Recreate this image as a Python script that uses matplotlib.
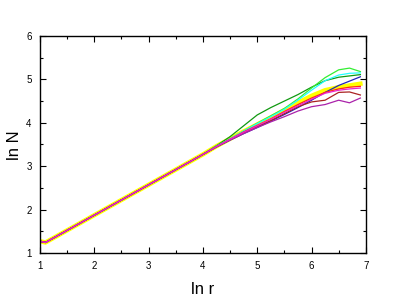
import numpy as np
import matplotlib.pyplot as plt
from matplotlib.ticker import MultipleLocator

plt.rcParams['font.family'] = ['Liberation Sans', 'DejaVu Sans']

# ln r sample points
ln_r = [1.0, 1.1, 1.5, 2.0, 2.5, 3.0, 3.5, 4.0,
        4.25, 4.5, 4.75, 5.0, 5.25, 5.5, 5.75, 6.0, 6.25, 6.5, 6.7, 6.9]

# shared part of all curves (up to ln r = 4)
trunk = [1.27, 1.24, 1.52, 1.87, 2.22, 2.57, 2.92, 3.27]

# tails, ln r = 4.25 .. 6.9
tail_dkgreen = [3.47, 3.68, 3.93, 4.18, 4.35, 4.50, 4.65, 4.82, 4.97, 5.05, 5.08, 5.11]
tail_lime    = [3.46, 3.63, 3.81, 3.99, 4.16, 4.33, 4.55, 4.80, 5.04, 5.22, 5.26, 5.18]
tail_cyan    = [3.46, 3.63, 3.81, 3.98, 4.14, 4.31, 4.52, 4.75, 4.97, 5.10, 5.14, 5.15]
tail_blue    = [3.44, 3.60, 3.75, 3.89, 4.04, 4.19, 4.35, 4.52, 4.70, 4.86, 4.96, 5.06]
tail_yellow  = [3.46, 3.63, 3.80, 3.96, 4.12, 4.29, 4.46, 4.62, 4.75, 4.82, 4.86, 4.90]
tail_red     = [3.45, 3.62, 3.79, 3.94, 4.09, 4.26, 4.42, 4.57, 4.70, 4.78, 4.82, 4.84]
tail_magenta = [3.45, 3.62, 3.78, 3.93, 4.08, 4.24, 4.39, 4.54, 4.68, 4.75, 4.78, 4.80]
tail_brown   = [3.45, 3.61, 3.77, 3.91, 4.05, 4.21, 4.37, 4.48, 4.52, 4.70, 4.71, 4.64]
tail_purple  = [3.45, 3.60, 3.75, 3.89, 4.02, 4.14, 4.27, 4.37, 4.42, 4.52, 4.46, 4.57]

fig = plt.figure(figsize=(4.02, 3.0), dpi=100)
ax = fig.add_axes([0.0995, 0.157, 0.8105, 0.723])

# yellow drawn thick underneath
ax.plot(ln_r, trunk + tail_yellow, color='#ffff00', lw=3.2, zorder=1)

curves = [
    (tail_dkgreen, '#119911'),
    (tail_lime, '#33ee33'),
    (tail_cyan, '#22ffff'),
    (tail_blue, '#2222bb'),
    (tail_red, '#ff2222'),
    (tail_brown, '#aa2222'),
    (tail_purple, '#aa22aa'),
    (tail_magenta, '#ee22cc'),
]
for tail, c in curves:
    ax.plot(ln_r, trunk + tail, color=c, lw=0.9, zorder=2)

ax.set_xlim(1, 7)
ax.set_ylim(1, 6)
ax.xaxis.set_major_locator(MultipleLocator(1))
ax.xaxis.set_minor_locator(MultipleLocator(0.5))
ax.yaxis.set_major_locator(MultipleLocator(1))
ax.yaxis.set_minor_locator(MultipleLocator(0.5))
ax.tick_params(which='both', direction='in', top=True, right=True, labelsize=7, pad=6)
ax.tick_params(which='major', length=4, width=0.8)
ax.tick_params(which='minor', length=2.5, width=0.8)
for s in ax.spines.values():
    s.set_linewidth(1.0)

fig.text(0.505, 0.035, 'ln r', ha='center', va='center', fontsize=12)
fig.text(0.035, 0.515, 'ln N', ha='center', va='center', fontsize=12, rotation=90)

fig.savefig('out.png', dpi=100)
